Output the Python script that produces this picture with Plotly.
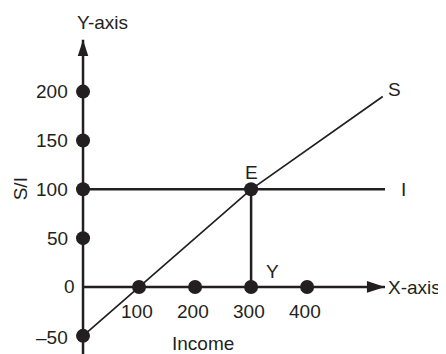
import plotly.graph_objects as go

# ---- data ----
income_ticks = [100, 200, 300, 400]
income_tick_labels = ["100", "200", "300", "400"]
si_ticks = [-50, 0, 50, 100, 150, 200]
si_tick_labels = ["\u201350", "0", "50", "100", "150", "200"]
si_dots = [200, 150, 100, 50, -50]

s_income = [0, 100, 300, 535]
s_values = [-50, 0, 100, 195]

i_income = [0, 539]
i_values = [100, 100]

eq_income = 300
eq_value = 100

# axis extents (decoration)
X_END = 539
Y_TOP = 253
Y_BOTTOM = -75

INK = "#231f20"
FONT = dict(family="Liberation Sans, Arial, sans-serif", size=19, color=INK)

fig = go.Figure()

# axes lines
fig.add_trace(go.Scatter(x=[0, X_END], y=[0, 0], mode="lines",
                         line=dict(color=INK, width=2.5), hoverinfo="skip"))
fig.add_trace(go.Scatter(x=[0, 0], y=[Y_BOTTOM, Y_TOP], mode="lines",
                         line=dict(color=INK, width=2.5), hoverinfo="skip"))

# I line
fig.add_trace(go.Scatter(x=i_income, y=i_values, mode="lines",
                         line=dict(color=INK, width=2.5), hoverinfo="skip"))
# S line
fig.add_trace(go.Scatter(x=s_income, y=s_values, mode="lines",
                         line=dict(color=INK, width=1.7), hoverinfo="skip"))
# vertical drop from E to Y
fig.add_trace(go.Scatter(x=[eq_income, eq_income], y=[0, eq_value], mode="lines",
                         line=dict(color=INK, width=2.5), hoverinfo="skip"))

# dots
fig.add_trace(go.Scatter(x=[0] * len(si_dots), y=si_dots, mode="markers",
                         marker=dict(color=INK, size=14), hoverinfo="skip"))
fig.add_trace(go.Scatter(x=income_ticks, y=[0] * len(income_ticks), mode="markers",
                         marker=dict(color=INK, size=14), hoverinfo="skip"))
fig.add_trace(go.Scatter(x=[eq_income], y=[eq_value], mode="markers",
                         marker=dict(color=INK, size=14), hoverinfo="skip"))

# arrowheads
fig.add_trace(go.Scatter(x=[X_END], y=[0], mode="markers",
                         marker=dict(symbol="arrow", angle=90, color=INK, size=19,
                                     line=dict(width=0)), hoverinfo="skip"))
fig.add_trace(go.Scatter(x=[0], y=[Y_TOP], mode="markers",
                         marker=dict(symbol="arrow", angle=0, color=INK, size=17,
                                     line=dict(width=0)), hoverinfo="skip"))

ann = []
# y tick labels
for v, t in zip(si_ticks, si_tick_labels):
    ann.append(dict(x=0, y=v, text=t, showarrow=False, xanchor="right", yanchor="middle",
                    xshift=-6 if v not in si_dots else -13, yshift=-2 if v == -50 else 0,
                    font=FONT))
# x tick labels
for v, t in zip(income_ticks, income_tick_labels):
    ann.append(dict(x=v, y=0, text=t, showarrow=False, xanchor="center", yanchor="middle",
                    yshift=-25, xshift=-2, font=FONT))

ann += [
    dict(x=0, y=Y_TOP, text="Y-axis", showarrow=False, xanchor="left", yanchor="middle",
         xshift=-8, yshift=17, font=FONT),
    dict(x=X_END, y=0, text="X-axis", showarrow=False, xanchor="left", yanchor="middle",
         xshift=1, yshift=-1, font=FONT),
    dict(x=s_income[-1], y=s_values[-1], text="S", showarrow=False, xanchor="left",
         yanchor="middle", xshift=3, yshift=7, font=FONT),
    dict(x=i_income[-1], y=i_values[-1], text="I", showarrow=False, xanchor="left",
         yanchor="middle", xshift=14, yshift=0, font=FONT),
    dict(x=eq_income, y=eq_value, text="E", showarrow=False, xanchor="center",
         yanchor="middle", yshift=17, font=FONT),
    dict(x=eq_income, y=0, text="Y", showarrow=False, xanchor="center",
         yanchor="middle", xshift=21, yshift=15, font=FONT),
    dict(x=214, y=0, text="Income", showarrow=False, xanchor="center",
         yanchor="middle", yshift=-57, font=FONT),
    dict(x=0, y=100, text="S/I", showarrow=False, xanchor="center", textangle=-90,
         yanchor="middle", xshift=-63, font=FONT),
]

# The page body has an 8px default margin, so the figure starts at (8, 8);
# size and ranges compensate so the drawing lines up with the window.
fig.update_layout(
    width=438, height=346, autosize=False,
    margin=dict(l=0, r=0, t=0, b=0, pad=0),
    paper_bgcolor="white", plot_bgcolor="white",
    showlegend=False,
    xaxis=dict(range=[-133.9, 647.9], visible=False, fixedrange=True),
    yaxis=dict(range=[-68.6, 285.6], visible=False, fixedrange=True),
    annotations=ann,
)

fig.write_html("out.html")
